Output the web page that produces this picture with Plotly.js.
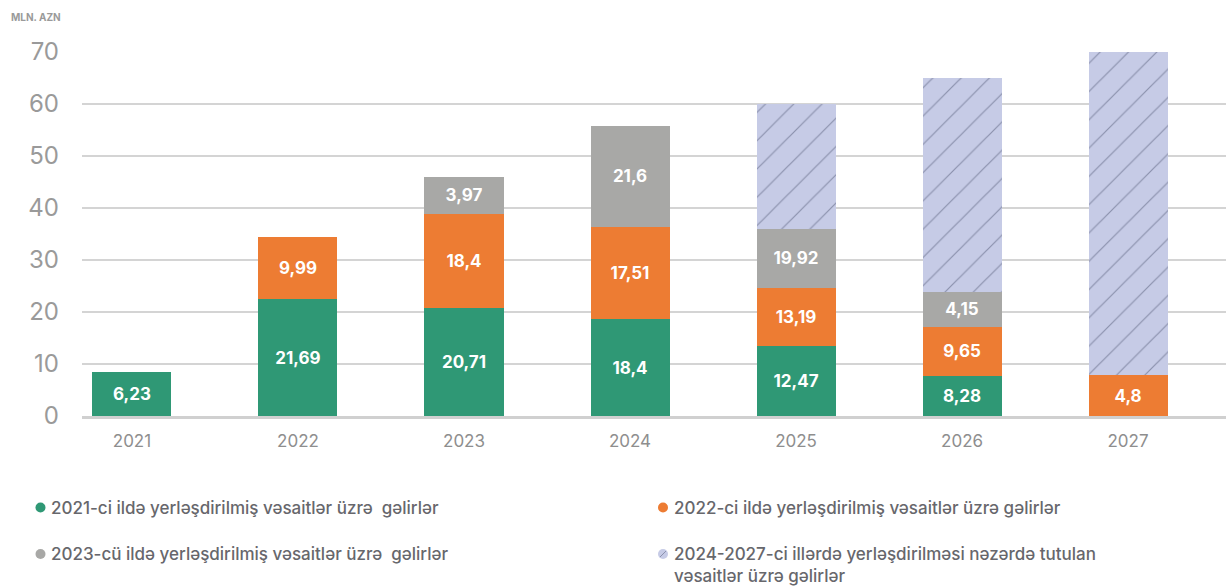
<!DOCTYPE html>
<html>
<head>
<meta charset="utf-8">
<script src="https://cdn.plot.ly/plotly-3.0.1.min.js"></script>
<style>html,body{margin:0;padding:0;background:#fff;}#chart{width:1226px;height:586px;}</style>
</head>
<body>
<div id="chart"></div>
<script>
// Categories (years)
const years = ['2021', '2022', '2023', '2024', '2025', '2026', '2027'];

// Segment heights as drawn in the picture (MLN. AZN)
const placed2021 = [8.46, 22.5, 20.77, 18.65, 13.5, 7.75, null];
const placed2022 = [null, 11.98, 18.08, 17.69, 11.2, 9.37, 7.83];
const placed2023 = [null, null, 7.17, 19.48, 11.35, 6.73, null];
const planned2024_2027 = [null, null, null, null, 23.96, 41.15, 62.17];

// Printed value labels
const labels2021 = ['6,23', '21,69', '20,71', '18,4', '12,47', '8,28', ''];
const labels2022 = ['', '9,99', '18,4', '17,51', '13,19', '9,65', '4,8'];
const labels2023 = ['', '', '3,97', '21,6', '19,92', '4,15', ''];

// Series names
const names = [
  '2021-ci ildə yerləşdirilmiş vəsaitlər üzrə  gəlirlər',
  '2022-ci ildə yerləşdirilmiş vəsaitlər üzrə gəlirlər',
  '2023-cü ildə yerləşdirilmiş vəsaitlər üzrə  gəlirlər',
  '2024-2027-ci illərdə yerləşdirilməsi nəzərdə tutulan<br>vəsaitlər üzrə gəlirlər'
];

const yTicks = [0, 10, 20, 30, 40, 50, 60, 70];
const unitLabel = 'MLN. AZN';

const FONT = 'Inter, "Noto Sans", sans-serif';
const GREEN = '#2f9875', ORANGE = '#ed7c33', GRAY = '#a8a8a6', HATCH = '#c6cbe6';

const labelFont = {family: FONT, size: 17, color: '#ffffff', weight: 700};

function seg(y, txt, color, name) {
  return {
    type: 'bar', x: years, y: y, name: name, text: txt,
    textposition: 'inside', insidetextanchor: 'middle', textangle: 0,
    constraintext: 'none', textfont: labelFont,
    marker: {color: color, line: {width: 0}},
    hoverinfo: 'x+y+name', showlegend: false
  };
}

const traces = [
  seg(placed2021, labels2021, GREEN, names[0]),
  seg(placed2022, labels2022, ORANGE, names[1]),
  seg(placed2023, labels2023, GRAY, names[2]),
  {
    type: 'bar', x: years, y: planned2024_2027, name: names[3],
    marker: {color: HATCH, line: {width: 0},
      pattern: {shape: '/', bgcolor: HATCH, fgcolor: '#8b91ad', size: 20, solidity: 0.06}},
    showlegend: false, hoverinfo: 'x+y'
  }
];

// plot area in pixels: x 82..1226, y 52..416
const L = 82, T = 52, W = 1144, H = 364;
const px = v => (v - L) / W;
const py = v => (T + H - v) / H;

const legendColor = '#67676c';
const legFont = {family: FONT, size: 17, color: legendColor, weight: 500};

const annotations = [
  {xref: 'paper', yref: 'paper', x: px(9), y: py(17), xanchor: 'left', yanchor: 'middle',
   text: unitLabel, showarrow: false, font: {family: FONT, size: 10, color: '#9a9a9a', weight: 700}},
  {xref: 'paper', yref: 'paper', x: px(49), y: py(507.5), xanchor: 'left', yanchor: 'middle',
   text: names[0], showarrow: false, font: legFont},
  {xref: 'paper', yref: 'paper', x: px(672), y: py(507.5), xanchor: 'left', yanchor: 'middle',
   text: names[1], showarrow: false, font: legFont},
  {xref: 'paper', yref: 'paper', x: px(49), y: py(554), xanchor: 'left', yanchor: 'middle',
   text: names[2], showarrow: false, font: legFont},
  {xref: 'paper', yref: 'paper', x: px(672), y: py(565), xanchor: 'left', yanchor: 'middle', align: 'left',
   text: names[3], showarrow: false, font: legFont}
];

function dot(cx, cy, color) {
  return {type: 'circle', xref: 'paper', yref: 'paper', xsizemode: 'pixel', ysizemode: 'pixel',
    xanchor: px(cx), yanchor: py(cy), x0: -5, x1: 5, y0: -5, y1: 5,
    fillcolor: color, line: {width: 0}};
}
const shapes = [
  dot(40.5, 507.5, GREEN),
  dot(663, 507.5, ORANGE),
  dot(40.5, 554, GRAY),
  dot(663, 554, HATCH),
  {type: 'line', xref: 'paper', yref: 'paper', xsizemode: 'pixel', ysizemode: 'pixel',
   xanchor: px(663), yanchor: py(554), x0: -3, x1: 3, y0: -3, y1: 3, line: {color: '#8b91ad', width: 1}}
];

const layout = {
  width: 1226, height: 586,
  margin: {l: L, r: 0, t: T, b: 586 - T - H, pad: 0},
  paper_bgcolor: '#ffffff', plot_bgcolor: '#ffffff',
  barmode: 'stack', bargap: 0.524,
  showlegend: false,
  font: {family: FONT},
  xaxis: {
    type: 'category', range: [-0.301, 6.59], fixedrange: true,
    showgrid: false, zeroline: false,
    showline: true, linecolor: '#d0d0d0', linewidth: 3,
    ticks: '', ticklabelstandoff: 8,
    tickfont: {family: FONT, size: 17, color: '#8e8e8e'}
  },
  yaxis: {
    range: [0, 70], tickvals: yTicks, ticktext: yTicks.map(String),
    showgrid: true, gridcolor: '#d4d4d4', gridwidth: 1.5,
    zeroline: false, showline: false, ticks: '',
    ticklabelstandoff: 22,
    tickfont: {family: FONT, size: 24, color: '#9a9a9a'}
  },
  annotations: annotations,
  shapes: shapes
};

Plotly.newPlot('chart', traces, layout, {staticPlot: true, displayModeBar: false});
</script>
</body>
</html>
